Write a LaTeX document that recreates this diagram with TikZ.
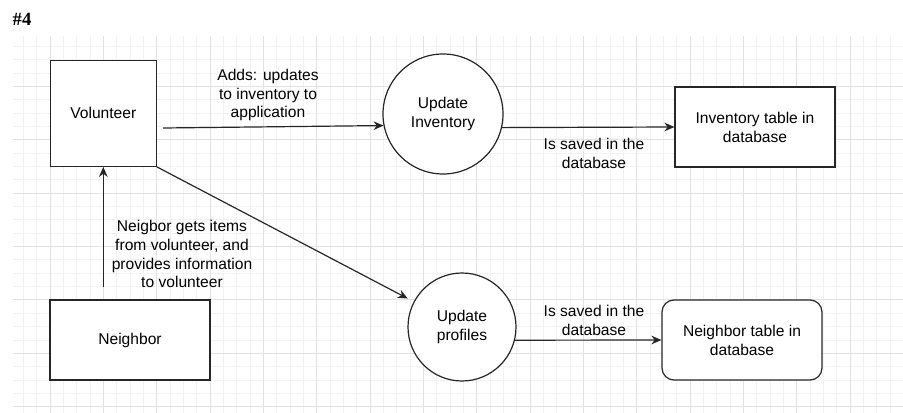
\documentclass[tikz,border=0pt]{standalone}
\usepackage{fontspec}
\setmainfont{Liberation Sans}
\newfontfamily\headfont{Liberation Serif}
\usetikzlibrary{arrows.meta}
\definecolor{gridminor}{RGB}{242,242,242}
\definecolor{gridmajor}{RGB}{226,226,226}

\begin{document}
\begin{tikzpicture}[x=0.75pt,y=-0.75pt,
        font=\fontsize{11.7}{14.2}\selectfont,
        >={Stealth[length=7.5pt,width=6.5pt]},
        box/.style={draw=black!85,line width=0.9pt,fill=white,inner sep=0pt,align=center},
        proc/.style={draw=black!85,line width=0.9pt,fill=white,circle,inner sep=0pt,align=center},
        flow/.style={line width=0.9pt,black!85},
        note/.style={align=center,inner sep=0pt}]
        \useasboundingbox (0,0) rectangle (903,413);

        % background grid
        \foreach \k in {-2,...,63}
            \draw[gridminor,line width=0.75pt] ({50+13.3333*\k},36) -- ({50+13.3333*\k},413);
        \foreach \k in {-19,...,8}
            \draw[gridminor,line width=0.75pt] (13,{300+13.3333*\k}) -- (903,{300+13.3333*\k});
        \foreach \k in {0,4,...,60}
            \draw[gridmajor,line width=0.75pt] ({50+13.3333*\k},36) -- ({50+13.3333*\k},413);
        \foreach \k in {-16,-12,...,8}
            \draw[gridmajor,line width=0.75pt] (13,{300+13.3333*\k}) -- (903,{300+13.3333*\k});

        % title
        \node[font={\headfont\bfseries\fontsize{14}{16}\selectfont}] (title) at (22,19) {\#4};

        % entities and processes
        \node[box,minimum width=79.5pt,minimum height=79.5pt] (volunteer) at (103.3,113.3) {Volunteer};
        \node[box,minimum width=120pt,minimum height=60pt] (neighbor) at (130,340) {Neighbor};
        \node[proc,minimum size=90pt] (updinv) at (443,114) {Update\\Inventory};
        \node[proc,minimum size=81pt] (updprof) at (462,327) {Update\\profiles};
        \node[box,minimum width=120pt,minimum height=60pt] (invtable) at (755,127) {Inventory table in\\database};
        \node[box,rounded corners=9pt,minimum width=120pt,minimum height=60pt] (nbtable) at (742,340) {Neighbor table in\\database};

        % flows
        \coordinate (addsfrom) at (163,128);
        \draw[flow,->] (addsfrom) -- (updinv.191.5);
        \node[note] (addstext) at (268,95) {Adds: updates\\to inventory to\\application};

        \draw[flow,->] (updinv.347) -- (invtable.west);
        \node[note] (savedinv) at (594,153) {Is saved in the\\database};

        \coordinate (neighup) at (103.3,287);
        \draw[flow,->] (neighup) -- (volunteer.south);
        \node[note] (givestext) at (182,254) {Neigbor gets items\\from volunteer, and\\provides information\\to volunteer};

        \draw[flow,->,shorten >=5pt] (volunteer.south east) -- (updprof);

        \draw[flow,->] (updprof.346) -- (nbtable.west);
        \node[note] (savedprof) at (594,320) {Is saved in the\\database};
    \end{tikzpicture}
\end{document}
